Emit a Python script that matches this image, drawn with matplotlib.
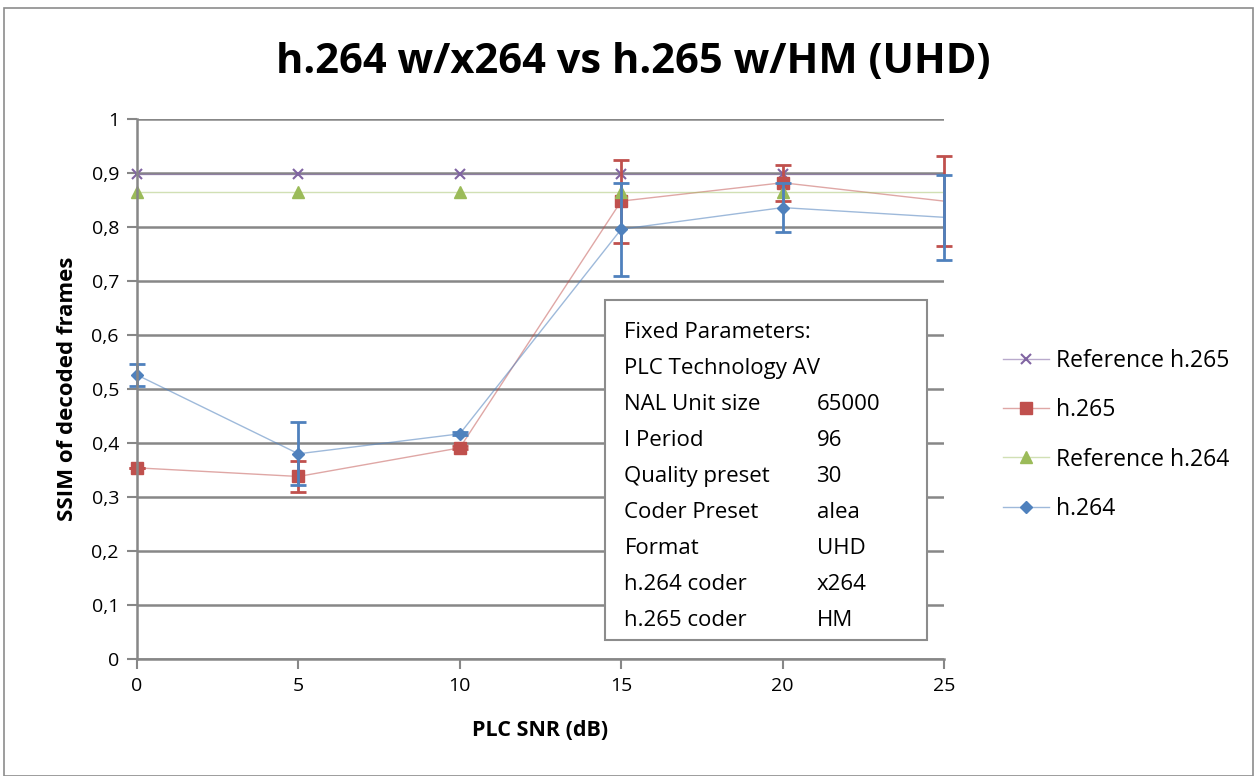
import matplotlib.pyplot as plt
from matplotlib.colors import to_rgba
from matplotlib.patches import Rectangle

# SNR points (dB)
snr = [0, 5, 10, 15, 20, 25]

# SSIM values
ref_h265 = [0.898, 0.898, 0.898, 0.898, 0.898, 0.898]
h265 = [0.354, 0.338, 0.391, 0.848, 0.882, 0.848]
ref_h264 = [0.865, 0.865, 0.865, 0.865, 0.865, 0.865]
h264 = [0.526, 0.380, 0.417, 0.796, 0.836, 0.818]

# error bar half-widths
h265_err = [0.0, 0.028, 0.003, 0.077, 0.033, 0.083]
h264_err = [0.021, 0.058, 0.003, 0.086, 0.046, 0.079]

params = ["PLC Technology AV", "NAL Unit size", "I Period", "Quality preset",
          "Coder Preset", "Format", "h.264 coder", "h.265 coder"]
param_values = ["", "65000", "96", "30", "alea", "UHD", "x264", "HM"]

plt.rcParams['font.family'] = ['Open Sans', 'DejaVu Sans']

fig = plt.figure(figsize=(12.57, 7.76), dpi=100)
fig.patches.append(Rectangle((0.003, 0.0), 0.994, 0.99, transform=fig.transFigure,
                             fill=False, edgecolor="#8c8c8c", linewidth=1.2))
ax = fig.add_axes([0.109, 0.1508, 0.642, 0.6958])

grid_c = "#878787"
ax.set_xlim(0, 25)
ax.set_ylim(0, 1)
ax.set_yticks([i / 10 for i in range(11)])
ax.set_yticklabels(["0", "0,1", "0,2", "0,3", "0,4", "0,5", "0,6", "0,7",
                    "0,8", "0,9", "1"])
ax.set_xticks(snr)
ax.grid(axis="y", color=grid_c, linewidth=1.8)
ax.set_axisbelow(True)
for s in ["top", "right"]:
    ax.spines[s].set_visible(False)
ax.spines["left"].set_color(grid_c)
ax.spines["left"].set_linewidth(1.8)
ax.spines["bottom"].set_color(grid_c)
ax.spines["bottom"].set_linewidth(1.8)
ax.tick_params(axis="both", color=grid_c, width=1.5, length=7, labelsize=14,
               pad=6)

shown = [0, 1, 2, 3, 4]

# series: thin light lines, solid markers
ax.plot(snr, ref_h265, color=to_rgba("#8064A2", 0.55), linewidth=1,
        marker="x", markersize=7, markeredgewidth=1.5,
        markeredgecolor="#8064A2", label="Reference h.265",
        markevery=shown, clip_on=False)
ax.errorbar(snr, h265, yerr=h265_err, color="#C0504D", ecolor="#C0504D",
            elinewidth=2, capsize=6, capthick=2, linewidth=0,
            clip_on=False)
ax.plot(snr, h265, color=to_rgba("#C0504D", 0.5), linewidth=1, marker="s",
        markersize=8, markerfacecolor="#C0504D", markeredgecolor="#C0504D",
        label="h.265", markevery=shown, clip_on=False)
ax.plot(snr, ref_h264, color=to_rgba("#9BBB59", 0.45), linewidth=1,
        marker="^", markersize=8, markerfacecolor="#9BBB59",
        markeredgecolor="#9BBB59", label="Reference h.264", markevery=shown,
        clip_on=False)
ax.errorbar(snr, h264, yerr=h264_err, color="#4F81BD", ecolor="#4F81BD",
            elinewidth=2, capsize=6, capthick=2, linewidth=0,
            clip_on=False)
ax.plot(snr, h264, color=to_rgba("#4F81BD", 0.55), linewidth=1, marker="D",
        markersize=6, markerfacecolor="#4F81BD", markeredgecolor="#4F81BD",
        label="h.264", markevery=shown, clip_on=False)

leg = ax.legend(loc="center left", bbox_to_anchor=(1.048, 0.415),
                frameon=False, fontsize=16.5, labelspacing=1.1,
                handlelength=2.0, handletextpad=0.3)

fig.text(0.504, 0.92, "h.264 w/x264 vs h.265 w/HM (UHD)", ha="center",
         va="center", fontsize=30, fontweight="bold")
ax.set_xlabel("PLC SNR (dB)", fontsize=15.5, fontweight="bold", labelpad=18)
ax.set_ylabel("SSIM of decoded frames", fontsize=16, fontweight="bold",
              labelpad=10)

# parameter box
box = Rectangle((0.5795, 0.035), 0.3995, 0.63, transform=ax.transAxes,
                facecolor="white", edgecolor="#8c8c8c", linewidth=1.5,
                zorder=5)
ax.add_patch(box)
y0 = 0.605
step = 0.0667
ax.text(0.604, y0, "Fixed Parameters:", transform=ax.transAxes, fontsize=16,
        va="center", zorder=6)
for i, (p, v) in enumerate(zip(params, param_values)):
    y = y0 - step * (i + 1)
    ax.text(0.604, y, p, transform=ax.transAxes, fontsize=16, va="center",
            zorder=6)
    ax.text(0.842, y, v, transform=ax.transAxes, fontsize=16, va="center",
            zorder=6)

fig.savefig("out.png", dpi=100)
